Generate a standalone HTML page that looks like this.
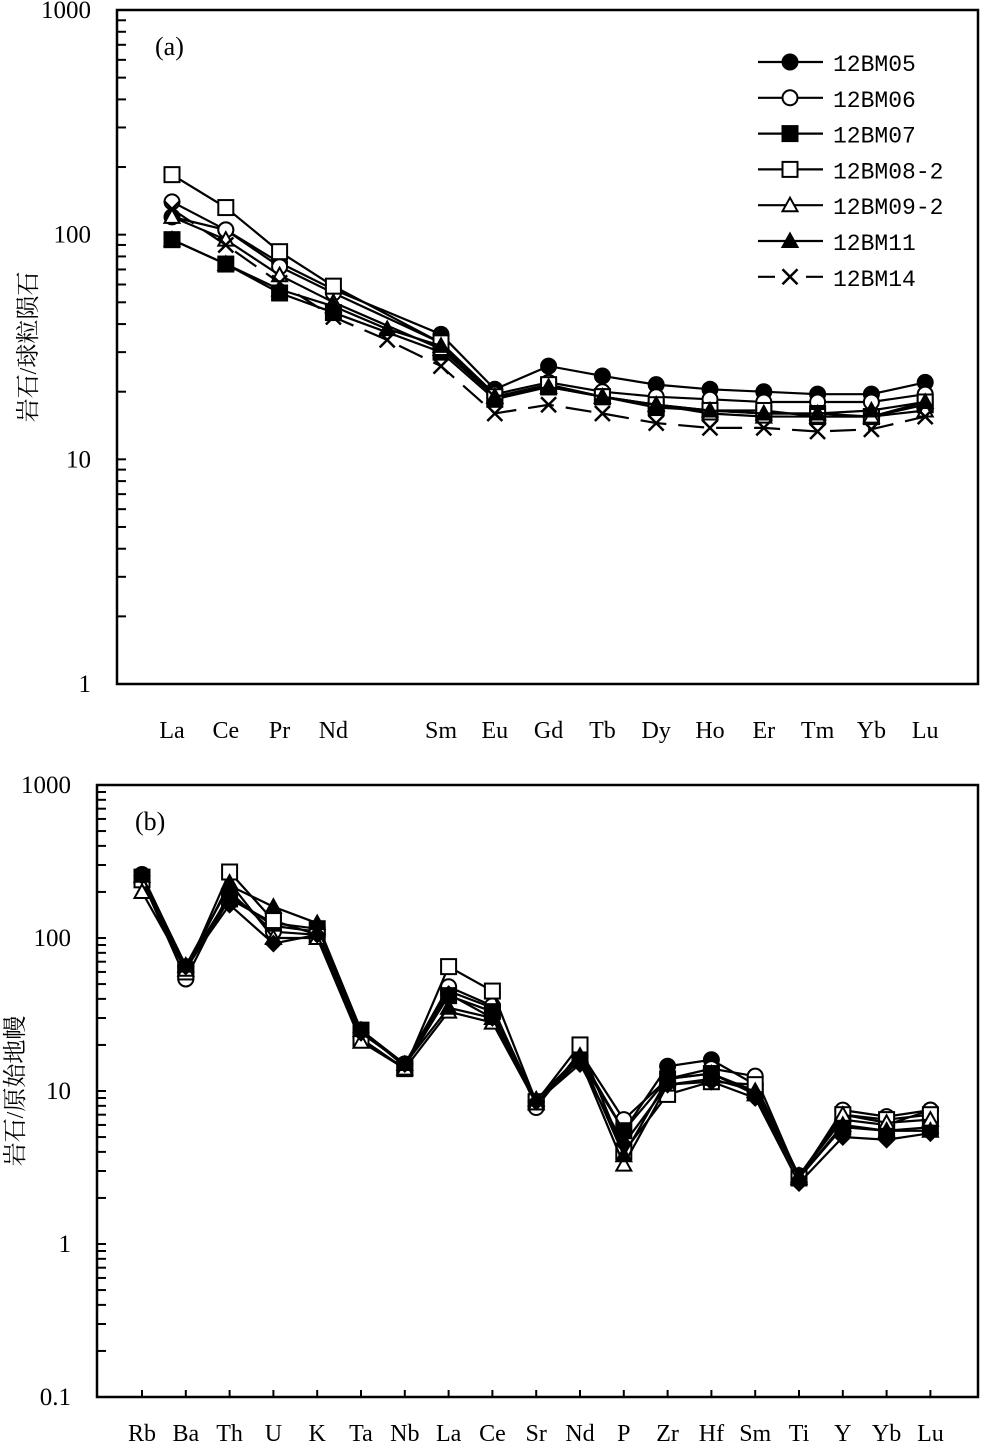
<!DOCTYPE html>
<html><head><meta charset="utf-8">
<style>
html,body{margin:0;padding:0;background:#fff;}
svg{display:block;}
text{font-family:"Liberation Serif","Noto Serif CJK SC",serif;fill:#000;}
.mono{font-family:"Liberation Mono","Noto Sans CJK SC",monospace;}
</style></head>
<body>
<svg id="chart" width="981" height="1444" viewBox="0 0 981 1444" xmlns="http://www.w3.org/2000/svg"></svg>
<script>
// ---------- Panel (a) data ----------
const catsA = ["La","Ce","Pr","Nd","Pm","Sm","Eu","Gd","Tb","Dy","Ho","Er","Tm","Yb","Lu"];
const labelsA = ["La","Ce","Pr","Nd","","Sm","Eu","Gd","Tb","Dy","Ho","Er","Tm","Yb","Lu"];
const seriesNames = ["12BM05","12BM06","12BM07","12BM08-2","12BM09-2","12BM11","12BM14"];
const a05 = [120,105,75,57,null,36,20.5,26,23.5,21.5,20.5,20,19.5,19.5,22];
const a06 = [140,105,72,55,null,33,19.5,22,20,19,18.5,18,18,18,19.5];
const a07 = [95,74,55,45,null,30,18.5,21,19,17,16.5,16,16,15.5,17.5];
const a08 = [185,132,84,59,null,33,19,21.5,19,17.5,16.5,16.5,15.5,15.5,18];
const a09 = [120,95,66,50,null,31,19,21,19,17.5,16,15.5,15.5,15.5,16.5];
const a11 = [95,74,57,48,38,32,19,21,19,17.5,16.5,16,16,16.5,18];
const a14 = [130,90,61,43,34,26,16,17.5,16,14.5,13.8,13.8,13.3,13.6,15.5];
const ticksA = [1,10,100,1000];
const tickLabelsA = ["1","10","100","1000"];
// ---------- Panel (b) data ----------
const catsB = ["Rb","Ba","Th","U","K","Ta","Nb","La","Ce","Sr","Nd","P","Zr","Hf","Sm","Ti","Y","Yb","Lu"];
const b05 = [260,65,190,120,110,25,15,45,35,8.5,17,5.5,14.5,16,11,2.8,6.5,6.0,7.5];
const b06 = [240,54,200,110,105,24,15,48,36,7.8,18,6.5,12,14,12.5,2.7,7.5,6.8,7.5];
const b07 = [250,62,180,125,115,25,14.5,42,33,8.5,16,5.5,12,13,10,2.7,5.8,5.5,5.8];
const b08 = [240,60,270,130,105,22,14,65,45,8.5,20,4,9.5,11.5,11,2.7,7,6.5,7];
const b09 = [200,62,230,100,100,21,14,33,28,8.3,16,3.3,11,12,10,2.8,7,6.2,6.5];
const b11 = [255,66,220,160,125,25,15,35,30,8.8,17,3.8,12,13,9.5,2.7,6,5.5,5.5];
const b14 = [255,65,165,92,105,24,15,43,30,8.5,15,4.5,11,11.5,9,2.5,5,4.8,5.3];
const ticksB = [0.1,1,10,100,1000];
const tickLabelsB = ["0.1","1","10","100","1000"];

const markersA = ["fcircle","ocircle","fsquare","osquare","otri","ftri","cross"];
const markersB = ["fcircle","ocircle","fsquare","osquare","otri","ftri","fdiamond"];
const dataA = [a05,a06,a07,a08,a09,a11,a14];
const dataB = [b05,b06,b07,b08,b09,b11,b14];

const NS="http://www.w3.org/2000/svg";
const svg=document.getElementById('chart');
function el(tag,attrs,parent){const e=document.createElementNS(NS,tag);for(const k in attrs)e.setAttribute(k,attrs[k]);(parent||svg).appendChild(e);return e;}

function marker(g,type,x,y){
  let m;const s=7.5;
  if(type==="fcircle"||type==="ocircle"){m=el('circle',{cx:x,cy:y,r:s,fill:type[0]==="f"?"#000":"#fff",stroke:"#000","stroke-width":2},g);}
  else if(type==="fsquare"||type==="osquare"){m=el('rect',{x:x-s,y:y-s,width:2*s,height:2*s,fill:type[0]==="f"?"#000":"#fff",stroke:"#000","stroke-width":2},g);}
  else if(type==="otri"||type==="ftri"){m=el('polygon',{points:`${x},${y-s} ${x-s},${y+s*0.8} ${x+s},${y+s*0.8}`,fill:type[0]==="f"?"#000":"#fff",stroke:"#000","stroke-width":2},g);}
  else if(type==="fdiamond"){m=el('polygon',{points:`${x},${y-s} ${x-s},${y} ${x},${y+s} ${x+s},${y}`,fill:"#000",stroke:"#000","stroke-width":2},g);}
  else {m=el('path',{d:`M${x-s},${y-s}L${x+s},${y+s}M${x-s},${y+s}L${x+s},${y-s}`,stroke:"#000","stroke-width":2.5,fill:"none"},g);}
  
  
}

function panel(opt){
  const {name,left,right,top,bottom,minLog,maxLog,labels,data,markers,ticks,tickLabels,ytitle,ytitleX,panelLabel,xOff,xStep,dashedLast,xTicks,labelOff}=opt;
  const g=el('g',{});
  
  
  const ys=v=>bottom-(Math.log10(v)-minLog)/(maxLog-minLog)*(bottom-top);
  const xs=i=>left+xOff+i*xStep;
  const box=el('path',{d:`M${left},${top}H${right}V${bottom}H${left}Z`,fill:"none",stroke:"#000","stroke-width":2.5},g);
  
  
  for(let d=minLog;d<=maxLog;d++){
    const y=ys(Math.pow(10,d));
    const t=el('line',{x1:left,x2:left+9,y1:y,y2:y,stroke:"#000","stroke-width":2},g);
    
    
    if(d<maxLog){for(let k=2;k<=9;k++){const yy=ys(k*Math.pow(10,d));
      const mt=el('line',{x1:left,x2:left+9,y1:yy,y2:yy,stroke:"#000","stroke-width":2},g);
      
      }}
  }
  ticks.forEach((v,i)=>{const t=el('text',{x:left-26,y:ys(v)+8,"font-size":25,"text-anchor":"end"},g);t.textContent=tickLabels[i];
    
    });
  labels.forEach((c,i)=>{if(!c)return;const t=el('text',{x:xs(i),y:bottom+labelOff,"font-size":24,"text-anchor":"middle"},g);t.textContent=c;
    
    
    if(xTicks){const tk=el('line',{x1:xs(i),x2:xs(i),y1:bottom,y2:bottom-7,stroke:"#000","stroke-width":2},g);
      
      }});
  const yt=el('text',{x:0,y:0,"font-size":24,"text-anchor":"middle",transform:`translate(${ytitleX},${(top+bottom)/2}) rotate(-90)`},g);
  yt.textContent=ytitle;
  
  
  const pl=el('text',{x:left+38,y:top+45,"font-size":26},g);pl.textContent=panelLabel;
  
  
  data.forEach((arr,si)=>{
    const sg=el('g',{},g);
    
    
    const pts=[];arr.forEach((v,i)=>{if(v!=null)pts.push([xs(i),ys(v)]);});
    const ln=el('polyline',{points:pts.map(p=>p.join(',')).join(' '),fill:"none",stroke:"#000","stroke-width":2.2},sg);
    if(dashedLast&&si===data.length-1)ln.setAttribute('stroke-dasharray','26 12');
    
    
    pts.forEach(p=>marker(sg,markers[si],p[0],p[1]));
  });
  return g;
}

panel({name:"panel-a-chondrite",left:117,right:978,top:10,bottom:684,minLog:0,maxLog:3,labels:labelsA,data:dataA,markers:markersA,
  ticks:ticksA,tickLabels:tickLabelsA,ytitle:"岩石/球粒陨石",ytitleX:36,panelLabel:"(a)",xOff:55,xStep:53.8,dashedLast:true,xTicks:false,labelOff:54});
panel({name:"panel-b-primitive-mantle",left:97,right:978,top:785,bottom:1397,minLog:-1,maxLog:3,labels:catsB,data:dataB,markers:markersB,
  ticks:ticksB,tickLabels:tickLabelsB,ytitle:"岩石/原始地幔",ytitleX:23,panelLabel:"(b)",xOff:45,xStep:43.8,dashedLast:false,xTicks:true,labelOff:44});

const lg=el('g',{});


seriesNames.forEach((n,i)=>{
  const y=62+i*35.8;
  const eg=el('g',{},lg);
  
  
  const l=el('line',{x1:758,x2:823,y1:y,y2:y,stroke:"#000","stroke-width":2.2},eg);
  if(i===6)l.setAttribute('stroke-dasharray','17 31 17');
  
  
  marker(eg,markersA[i],790,y);
  const t=el('text',{x:833,y:y+9,"font-size":23,"class":"mono"},eg);t.textContent=n;
  
  
});
</script>
</body></html>
